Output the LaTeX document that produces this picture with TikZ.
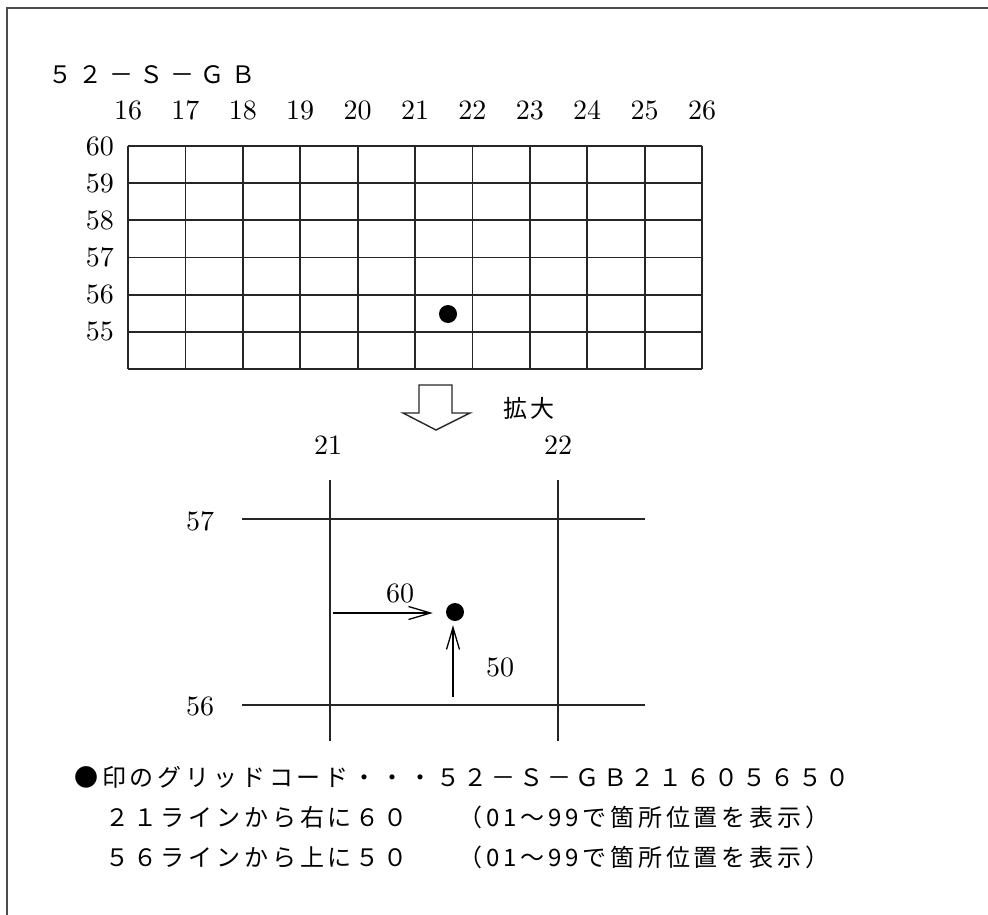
\documentclass[tikz,border=0pt]{standalone}
\usepackage{fontspec}
\newfontfamily\jp[LetterSpace=16]{Noto Sans CJK JP}
\newfontfamily\jpt[LetterSpace=27]{Noto Sans CJK JP}
\newfontfamily\lmten{lmroman10-regular.otf}
\usetikzlibrary{arrows.meta}
\begin{document}
\begin{tikzpicture}[x=1pt,y=-1pt,
  lat/.style={font=\lmten\fontsize{28}{32}\selectfont, inner sep=0pt},
  jtxt/.style={font=\jp\fontsize{24}{28}\selectfont, inner sep=0pt, anchor=west},
  gridline/.style={line width=1.8pt, black!85},
  dot/.style={circle, fill=black, minimum size=18pt, inner sep=0pt},
  ptr/.style={line width=1.3pt, -{Straight Barb[length=22pt,width=13pt,line width=1.3pt]}}]
\useasboundingbox (0,0) rectangle (988,915);
\draw[line width=2.5pt, black!70] (7,915) -- (7,8) -- (988,8);
% title
\node[jtxt, font=\jpt\fontsize{24}{28}\selectfont] (title) at (48,75) {５２－Ｓ－ＧＢ};
% overview grid
\foreach \i in {0,...,10} \draw[gridline] ({128+57.4*\i},146) -- ({128+57.4*\i},369);
\foreach \j in {0,...,6} \draw[gridline] (128,{146+37.167*\j}) -- (702,{146+37.167*\j});
\foreach \i [evaluate=\i as \n using int(16+\i)] in {0,...,10}
  \node[lat] (c\n) at ({128+57.4*\i},110) {\n};
\foreach \j [evaluate=\j as \n using int(60-\j)] in {0,...,5}
  \node[lat, anchor=east] (r\n) at (114,{146+37.167*\j}) {\n};
\node[dot] (p1) at (448,314) {};
% hollow arrow
\draw[line width=1.4pt, black!85] (419,385) -- (452,385) -- (452,413) -- (470,413) -- (436,430) -- (403,413) -- (419,413) -- cycle;
\node[jtxt, anchor=center] (kakudai) at (529,408) {拡大};
% enlarged view
\coordinate (v21t) at (330,480); \coordinate (v21b) at (330,741);
\coordinate (v22t) at (558,480); \coordinate (v22b) at (558,741);
\coordinate (h57l) at (242,519); \coordinate (h57r) at (645,519);
\coordinate (h56l) at (242,705); \coordinate (h56r) at (645,705);
\draw[gridline] (v21t) -- (v21b);
\draw[gridline] (v22t) -- (v22b);
\draw[gridline] (h57l) -- (h57r);
\draw[gridline] (h56l) -- (h56r);
\node[lat] (n21) at (328,445) {21};
\node[lat] (n22) at (558,445) {22};
\node[lat] (n57) at (200,521) {57};
\node[lat] (n56) at (200,706) {56};
\node[dot] (p2) at (455,612) {};
\coordinate (hs) at (333,613);
\coordinate (vs) at (453,697);
\draw[ptr, shorten >=13pt] (hs) -- (p2.west |- hs);
\draw[ptr, shorten >=4pt] (vs) -- (vs |- p2.south);
\node[lat] (n60) at (400,593) {60};
\node[lat] (n50) at (500,667) {50};
% text
\node[jtxt] (l1) at (74,777) {●印のグリッドコード・・・５２－Ｓ－ＧＢ２１６０５６５０};
\node[jtxt] (l2a) at (105,817) {２１ラインから右に６０};
\node[jtxt] (l2b) at (458,817) {（01～99で箇所位置を表示）};
\node[jtxt] (l3a) at (105,857) {５６ラインから上に５０};
\node[jtxt] (l3b) at (458,857) {（01～99で箇所位置を表示）};
\end{tikzpicture}
\end{document}
